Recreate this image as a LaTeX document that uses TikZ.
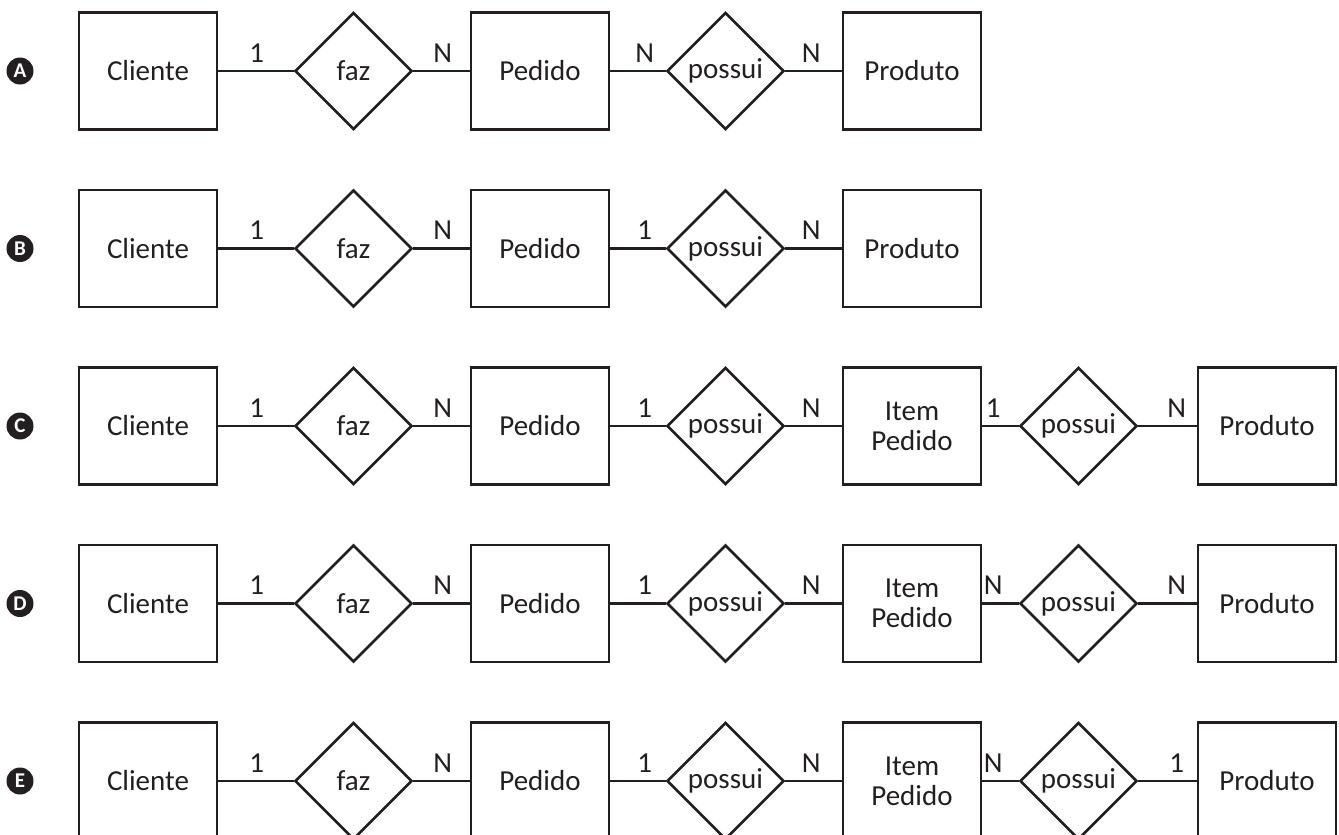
\documentclass[tikz,border=0pt]{standalone}
\usepackage{fontspec}
\setmainfont{Carlito}
\usetikzlibrary{shapes.geometric}
\definecolor{ink}{HTML}{231F20}
\tikzset{
  ent/.style={draw=ink, line width=2.7pt, rectangle, minimum width=138pt, minimum height=117pt, inner sep=0pt, text=ink, font=\fontsize{29}{30}\selectfont, align=center},
  rel/.style={draw=ink, line width=2.7pt, diamond, minimum width=117pt, minimum height=117pt, inner sep=0pt, text=ink, font=\fontsize{29}{30}\selectfont},
  conn/.style={draw=ink, line width=2.7pt},
  card/.style={text=ink, font=\fontsize{29}{30}\selectfont, inner sep=0pt, yshift=18pt},
  tag/.style={circle, fill=ink, minimum size=27pt, inner sep=0pt, text=white, font=\fontsize{21}{21}\selectfont\bfseries}
}
% #1 id, #2 y, #3 letter, #4..#7 labels
\newcommand{\ERbase}[7]{%
  \node[tag] (tag#1) at (20,#2) {#3};
  \node[ent] (cli#1) at (148,#2) {Cliente};
  \node[rel] (faz#1) at (353.5,#2) {faz};
  \node[ent] (ped#1) at (540,#2) {Pedido};
  \node[rel] (pos#1) at (725.5,#2) {possui};
  \draw[conn] (cli#1) -- node[card,pos=0.51]{#4} (faz#1);
  \draw[conn] (faz#1) -- node[card,pos=0.52]{#5} (ped#1);
  \draw[conn] (ped#1) -- node[card,pos=0.62]{#6} (pos#1);
  \draw[conn] (pos#1) -- node[card,pos=0.46]{#7} (x#1);
}
\newcommand{\ERlong}[4]{%
  \node[rel] (pp#1) at (1078.5,#2) {possui};
  \node[ent] (prd#1) at (1267,#2) {Produto};
  \draw[conn] (x#1) -- node[card,pos=0.3]{#3} (pp#1);
  \draw[conn] (pp#1) -- node[card,pos=0.66]{#4} (prd#1);
}
\begin{document}
\begin{tikzpicture}[x=1pt,y=-1pt]
\useasboundingbox (0,0) rectangle (1339,835);
% Row A
\node[ent] (xA) at (912,71) {Produto};
\ERbase{A}{71}{A}{1}{N}{N}{N}
% Row B
\node[ent] (xB) at (912,248.5) {Produto};
\ERbase{B}{248.5}{B}{1}{N}{1}{N}
% Row C
\node[ent] (xC) at (912,426) {Item\\Pedido};
\ERbase{C}{426}{C}{1}{N}{1}{N}
\ERlong{C}{426}{1}{N}
% Row D
\node[ent] (xD) at (912,603.5) {Item\\Pedido};
\ERbase{D}{603.5}{D}{1}{N}{1}{N}
\ERlong{D}{603.5}{N}{N}
% Row E
\node[ent] (xE) at (912,781) {Item\\Pedido};
\ERbase{E}{781}{E}{1}{N}{1}{N}
\ERlong{E}{781}{N}{1}
\end{tikzpicture}
\end{document}
